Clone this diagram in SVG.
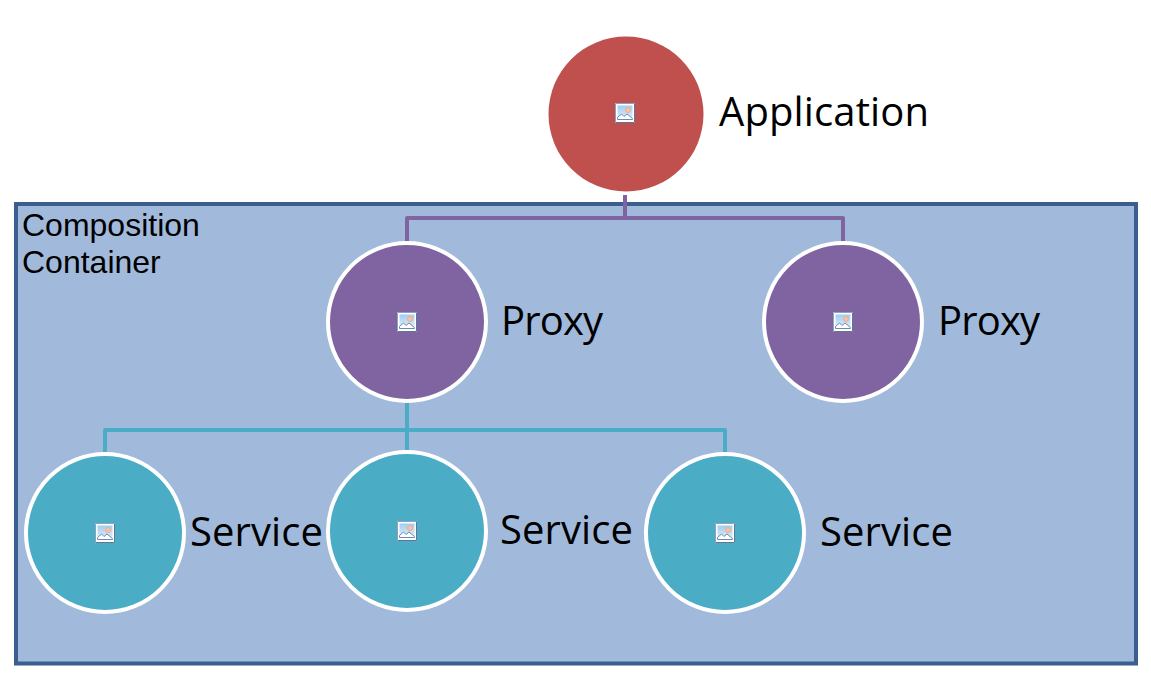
<svg xmlns="http://www.w3.org/2000/svg" width="1151" height="681" viewBox="0 0 1151 681">
<style>
.node{stroke:#fff;stroke-width:4}
.conn{fill:none;stroke-width:4;stroke-linejoin:round}
.label{font-family:"Open Sans","Noto Sans",sans-serif;font-size:40px;fill:#000}
.title{font-family:"Liberation Sans",Arial,sans-serif;font-size:32px;fill:#000}
</style>
<defs>
<linearGradient id="sky" x1="0" y1="0" x2="0" y2="1"><stop offset="0" stop-color="#9fcdf2"/><stop offset="1" stop-color="#e2f0fb"/></linearGradient>
<g id="icon">
<rect x="-10" y="-10" width="20" height="20" fill="#fff"/>
<path d="M-9.500 9.500V-9.500H9.500" fill="none" stroke="#8fa2bd"/>
<path d="M9.500 -9.500V9.500H-9.500" fill="none" stroke="#5f7596"/>
<rect x="-7.500" y="-7.500" width="15" height="14" fill="url(#sky)"/>
<circle cx="3" cy="-3" r="2.500" fill="#f8c4a8" stroke="#f4a57f" stroke-width="0.800"/>
<path d="M-7.500 6.500L-7.500 4.500L-3.500 1L-1 3.500L2 1L7.500 5.500L7.500 6.500Z" fill="#fff" stroke="#6f88b0"/>
</g>
</defs>
<rect id="container" x="16" y="204" width="1120" height="459.500" fill="#a1badb" stroke="#3a5f8f" stroke-width="4"/>
<text class="title" x="22" y="236">Composition</text>
<text class="title" x="22" y="273">Container</text>
<g id="connectors">
<path class="conn" stroke="#8064a2" d="M625 195V218M407 243V218H843V243"/>
<path class="conn" stroke="#4bacc6" d="M407 403V453M105 453V430H725V453"/>
</g>
<g id="application"><circle cx="626" cy="114" r="77.500" fill="#c0504d"/><use href="#icon" x="625" y="113"/><text class="label" x="719" y="126" textLength="210" lengthAdjust="spacing">Application</text></g>
<g id="proxy1"><circle class="node" cx="407" cy="322" r="79" fill="#8064a2"/><use href="#icon" x="407" y="322"/><text class="label" x="501" y="335" textLength="102">Proxy</text></g>
<g id="proxy2"><circle class="node" cx="843" cy="322" r="79" fill="#8064a2"/><use href="#icon" x="843" y="322"/><text class="label" x="938" y="335" textLength="102">Proxy</text></g>
<g id="service1"><circle class="node" cx="105" cy="533" r="79" fill="#4bacc6"/><use href="#icon" x="105" y="533"/><text class="label" x="190" y="546" textLength="133">Service</text></g>
<g id="service2"><circle class="node" cx="407" cy="531" r="79" fill="#4bacc6"/><use href="#icon" x="407" y="531"/><text class="label" x="500" y="544" textLength="133">Service</text></g>
<g id="service3"><circle class="node" cx="725" cy="533" r="79" fill="#4bacc6"/><use href="#icon" x="725" y="533"/><text class="label" x="820" y="546" textLength="133">Service</text></g>
</svg>
